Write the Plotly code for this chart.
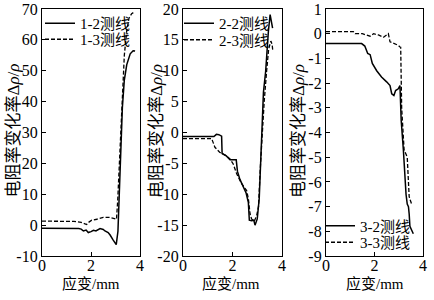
import plotly.graph_objects as go

# ---- data ----
x12 = [0, 1.4, 1.5, 1.6, 1.69, 1.8, 1.89, 2.0, 2.1, 2.2, 2.37, 2.5, 2.57, 2.7, 2.78, 2.9, 3.03, 3.1, 3.18, 3.28, 3.36, 3.46, 3.6, 3.72, 3.8]
y12 = [-1.0, -1.0, -1.1, -1.3, -1.9, -1.6, -2.4, -2.1, -1.7, -1.9, -1.1, -1.4, -1.9, -2.4, -3.2, -4.8, -6.3, -2.0, 17, 38, 47, 52, 55.5, 56.5, 56.4]
x13 = [0, 1.0, 1.3, 1.6, 1.76, 1.82, 1.9, 2.03, 2.24, 2.5, 2.78, 2.95, 3.04, 3.09, 3.14, 3.25, 3.36, 3.46, 3.55, 3.66, 3.76]
y13 = [1.3, 1.3, 1.2, 0.9, 0.5, 0.2, 0.9, 1.6, 1.9, 2.5, 2.5, 2.2, 1.9, 8, 17, 39, 55, 63, 67, 68.5, 69]

x22 = [0, 1.25, 1.35, 1.45, 1.56, 1.58, 1.75, 1.9, 2.15, 2.2, 2.3, 2.44, 2.55, 2.64, 2.68, 2.77, 2.86, 2.91, 3.0, 3.08, 3.18, 3.25, 3.34, 3.38, 3.45, 3.52, 3.57, 3.62]
y22 = [-0.65, -0.65, -0.3, -0.35, -0.6, -3.4, -3.8, -4.4, -4.4, -6.3, -7.6, -8.9, -9.8, -11.3, -14.2, -14.3, -14.2, -15.0, -14.0, -10.7, 0.0, 6.5, 9.9, 12.6, 16.4, 19.1, 18.2, 16.9]
x23 = [0, 1.16, 1.29, 1.48, 1.76, 1.9, 2.03, 2.17, 2.37, 2.57, 2.64, 2.71, 2.77, 2.88, 2.98, 3.05, 3.12, 3.2, 3.28, 3.38, 3.46, 3.55, 3.6, 3.63]
y23 = [-1.0, -1.0, -2.4, -3.2, -3.8, -4.3, -5.1, -6.7, -8.3, -9.4, -10.7, -13.2, -14.0, -14.4, -13.4, -12.0, -6.0, 0.0, 5.0, 10.0, 13.5, 14.8, 14.3, 13.2]

x32 = [0, 1.47, 1.6, 1.72, 1.82, 1.91, 2.09, 2.29, 2.5, 2.64, 2.71, 2.8, 2.87, 2.98, 3.05, 3.1, 3.19, 3.26, 3.3, 3.35, 3.4, 3.43, 3.46, 3.6]
y32 = [-0.4, -0.4, -0.5, -0.8, -0.85, -1.2, -1.5, -1.75, -1.95, -2.1, -2.43, -2.5, -2.3, -2.23, -2.1, -3.5, -4.7, -5.9, -6.5, -6.9, -7.0, -7.3, -7.8, -8.1]
x33 = [0, 1.13, 1.2, 1.5, 1.61, 1.82, 1.96, 2.16, 2.37, 2.5, 2.57, 2.64, 2.78, 2.98, 3.05, 3.08, 3.12, 3.22, 3.35, 3.4, 3.43, 3.53]
y33 = [0.08, 0.08, 0.0, 0.0, -0.04, -0.1, 0.0, -0.05, -0.14, -0.06, 0.0, -0.33, -0.4, -0.47, -0.54, -0.55, -3.0, -4.7, -5.0, -5.9, -6.6, -6.9]

names = ["1-2测线", "1-3测线", "2-2测线", "2-3测线", "3-2测线", "3-3测线"]

xticks = [0, 2, 4]
xticklabels = ["0", "2", "4"]
yticks1 = [-10, 0, 10, 20, 30, 40, 50, 60, 70]
yticks2 = [-20, -15, -10, -5, 0, 5, 10, 15, 20]
yticks3 = [-9, -8, -7, -6, -5, -4, -3, -2, -1, 0, 1]
ytext1 = [str(v) for v in yticks1]
ytext2 = [str(v) for v in yticks2]
ytext3 = [str(v) for v in yticks3]

xtitle = "应变/mm"
ytitle = "电阻率变化率Δ<i>ρ</i>/<i>ρ</i>"

FONT = "'Liberation Serif', 'Times New Roman', 'Noto Sans CJK SC', serif"
W, H = 434, 300

def px(v):
    return v / W

def py(v):
    return 1 - v / H

# legend placement (pixels): left x of legend box, centre y of the row
leg_pos = [(40, 23.5), (40, 39.5), (179, 23.5), (179, 40), (320, 226), (320, 242.5)]

fig = go.Figure()
series = [
    (x12, y12, "solid", "x", "y", 1.5),
    (x13, y13, "dash", "x", "y", 1.3),
    (x22, y22, "solid", "x2", "y2", 1.5),
    (x23, y23, "dash", "x2", "y2", 1.3),
    (x32, y32, "solid", "x3", "y3", 1.5),
    (x33, y33, "dash", "x3", "y3", 1.3),
]
for k, (xs, ys, dash, xa, ya, w) in enumerate(series):
    lg = "legend" if k == 0 else "legend%d" % (k + 1)
    fig.add_trace(go.Scatter(
        x=xs, y=ys, name=names[k], mode="lines", xaxis=xa, yaxis=ya, legend=lg,
        line=dict(color="black", width=w, dash="solid" if dash == "solid" else "4px,2px"),
    ))

xdoms = [[px(42), px(140)], [px(183), px(282)], [px(326), px(423)]]
ydom = [py(256), py(9)]
yranges = [[-10, 70], [-20, 20], [-9, 1]]
yt = [(yticks1, ytext1), (yticks2, ytext2), (yticks3, ytext3)]

axcommon = dict(showline=True, linecolor="black", linewidth=1.2, mirror=True,
                ticks="inside", ticklen=4, tickwidth=1, tickcolor="black",
                showgrid=False, zeroline=False, automargin=False,
                tickfont=dict(family=FONT, size=16, color="black"))
layout = dict(width=W, height=H, margin=dict(l=0, r=0, t=0, b=0, autoexpand=False),
              paper_bgcolor="white", plot_bgcolor="white",
              font=dict(family=FONT, color="black"), showlegend=True)
for i in range(3):
    sx = "" if i == 0 else str(i + 1)
    layout["xaxis" + sx] = dict(domain=xdoms[i], range=[0, 4], anchor="y" + sx,
                                tickvals=xticks, ticktext=xticklabels,
                                ticklabelstandoff=-5, **axcommon)
    layout["yaxis" + sx] = dict(domain=ydom, range=yranges[i], anchor="x" + sx,
                                tickvals=yt[i][0], ticktext=yt[i][1], **axcommon)

legfont = dict(family=FONT, size=15, color="black")
for k, (lx, ly) in enumerate(leg_pos):
    key = "legend" if k == 0 else "legend%d" % (k + 1)
    layout[key] = dict(x=px(lx), y=py(ly), xanchor="left", yanchor="middle",
                       bgcolor="rgba(0,0,0,0)", font=legfont, borderwidth=0)
fig.update_layout(**layout)

anns = []
for cx in [12.5, 156, 298]:
    anns.append(dict(text=ytitle, x=px(cx), y=py(131), xref="paper", yref="paper",
                     showarrow=False, textangle=-90, xanchor="center", yanchor="middle",
                     font=dict(family=FONT, size=17, color="black")))
for cx in [90.5, 231, 375]:
    anns.append(dict(text=xtitle, x=px(cx), y=py(283), xref="paper", yref="paper",
                     showarrow=False, xanchor="center", yanchor="middle",
                     font=dict(family=FONT, size=15, color="black")))
fig.update_layout(annotations=anns)

fig.write_html("out.html", config=dict(displayModeBar=False),
               post_script="document.body.style.margin='0';document.body.style.padding='0';")
